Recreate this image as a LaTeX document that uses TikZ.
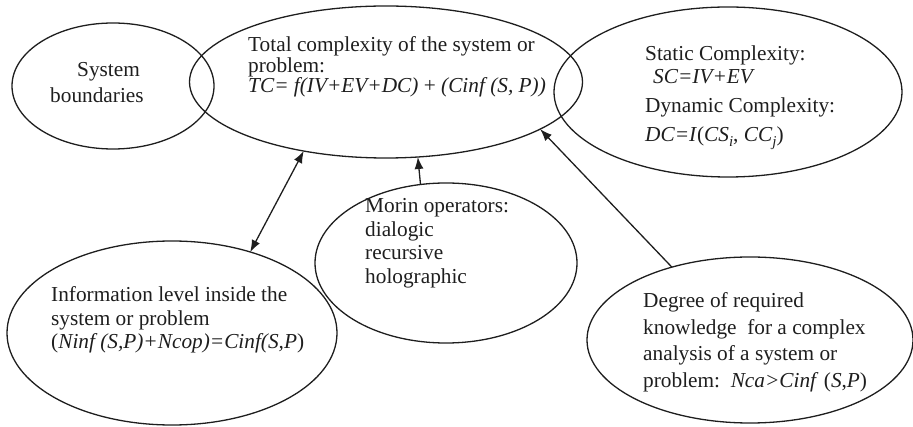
\documentclass[tikz,border=0pt]{standalone}
\usepackage{fontspec}
\setmainfont{Liberation Serif}
\usetikzlibrary{arrows.meta,shapes.geometric}

% stacked lines with a fixed baseline distance; the block's baseline is its first line
\newcommand\lineblock[2]{\vtop{\baselineskip=#1\lineskiplimit=-\maxdimen\lineskip=0pt\relax #2}}
% italic letters with an italic subscript in the text font
\newcommand\itsub[2]{\textit{#1}\raisebox{-0.22em}{\fontsize{15}{15}\selectfont\textit{#2}}}

\definecolor{ink}{HTML}{1E1E1E}

\tikzset{
  oval/.style={draw=ink, line width=1.3pt, ellipse, inner sep=0pt, outer sep=0pt},
  label/.style={anchor=base west, inner sep=0pt, text=ink,
    font=\fontsize{21.3}{24}\selectfont},
  link/.style={draw=ink, line width=1.3pt, -{Latex[length=12pt,width=9pt]}},
  duallink/.style={draw=ink, line width=1.3pt, {Latex[length=12pt,width=9pt]}-{Latex[length=12pt,width=9pt]}}
}

\begin{document}
\begin{tikzpicture}[x=1pt,y=-1pt]
\useasboundingbox (0,0) rectangle (913,427);

% ovals
\node[oval, minimum width=202pt, minimum height=126pt] (sb) at (113,86) {};
\node[oval, minimum width=393pt, minimum height=152pt] (tc) at (386,82) {};
\node[oval, minimum width=348pt, minimum height=170pt] (sc) at (728,92) {};
\node[oval, minimum width=262pt, minimum height=160pt] (mo) at (446,263) {};
\node[oval, minimum width=330pt, minimum height=184pt] (il) at (172,333) {};
\node[oval, minimum width=326pt, minimum height=166pt] (dk) at (750,340) {};

% texts
\node[label] (sbtext) at (50,77) {\lineblock{26pt}{%
  \hbox{\kern27pt System}\hbox{boundaries}}};

\node[label] (tctext) at (248,52) {\lineblock{20.5pt}{%
  \hbox{Total complexity of the system or}
  \hbox{problem:}
  \hbox{\textit{TC= f(IV+EV+DC)} + \textit{(Cinf (S, P))}}}};

\node[label] (sctext) at (645,61) {\lineblock{29pt}{%
  \hbox{Static Complexity:}\vskip-6pt
  \hbox{\kern8pt\textit{SC=IV+EV}}
  \hbox{Dynamic Complexity:}
  \hbox{\textit{DC=I}(\itsub{CS}{i}, \itsub{CC}{j})}}};

\node[label] (motext) at (365,213) {\lineblock{23.5pt}{%
  \hbox{Morin operators:}
  \hbox{dialogic}
  \hbox{recursive}
  \hbox{holographic}}};

\node[label] (iltext) at (51,302) {\lineblock{23.5pt}{%
  \hbox{Information level inside the}
  \hbox{system or problem}
  \hbox{(\textit{Ninf (S,P)+Ncop)=Cinf(S,P})}}};

\node[label] (dktext) at (643,308) {\lineblock{26.5pt}{%
  \hbox{Degree of required}
  \hbox{knowledge\ \ for a complex}
  \hbox{analysis of a system or}
  \hbox{problem:\ \ \textit{Nca>Cinf} (\textit{S},\textit{P})}}};

% connectors
\draw[duallink] (il.46.5) -- (tc.220.8);
\draw[link] (mo.108) -- (tc.-67.4);
\draw[link] (dk.137.1) -- (tc.-17.9);
\end{tikzpicture}
\end{document}
